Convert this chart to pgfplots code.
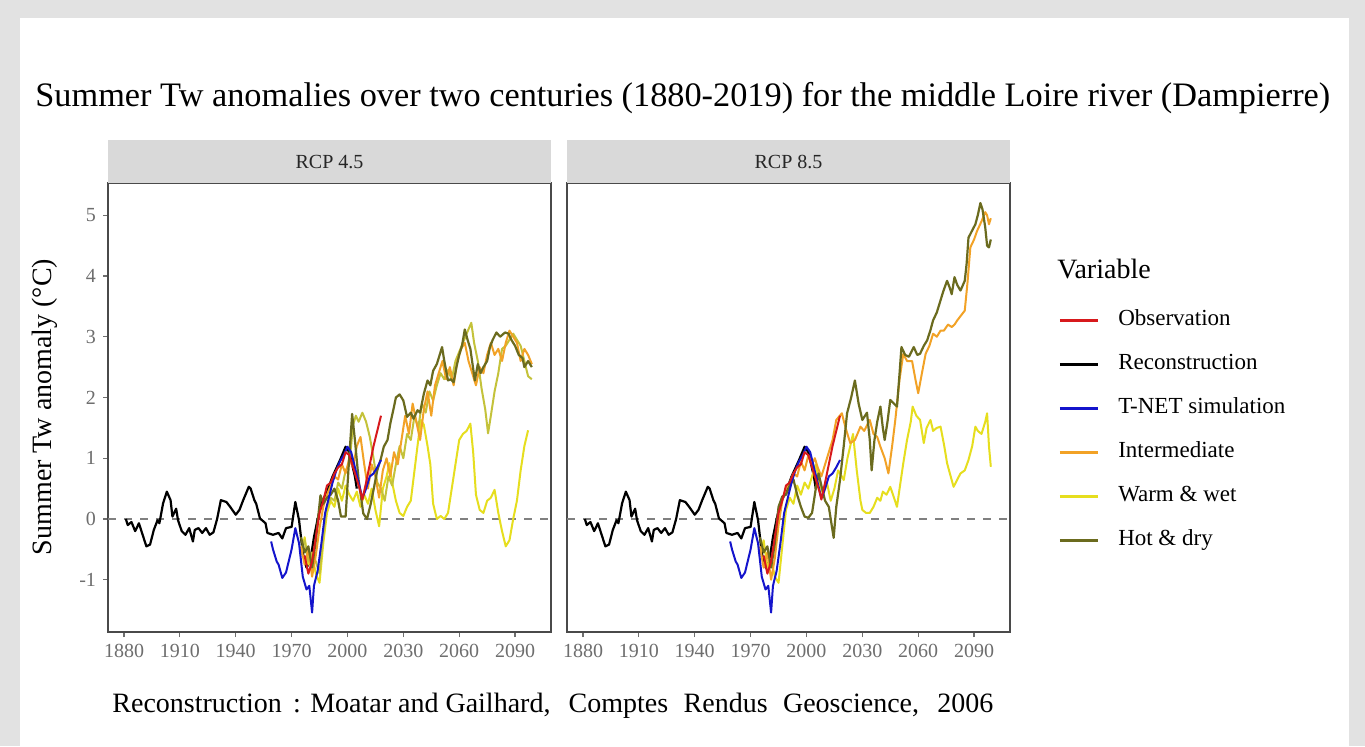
\documentclass[border=0pt]{standalone}
\usepackage{fontspec}
\setmainfont{Liberation Serif}
\usepackage{pgfplots}
\usepackage{pgfplotstable}
\pgfplotsset{compat=1.18}

\definecolor{obscol}{HTML}{D7191C}
\definecolor{tnetcol}{HTML}{1414CC}
\definecolor{intercol}{HTML}{F2A226}
\definecolor{warmcol}{HTML}{E6DE1E}
\definecolor{hotcol}{HTML}{6B6B1E}
\definecolor{ygcol}{HTML}{C4C23A}
\definecolor{framegray}{HTML}{E2E2E2}
\definecolor{stripgray}{HTML}{D9D9D9}
\definecolor{labgray}{HTML}{6E6E6E}
\definecolor{axisdark}{HTML}{4A4A4A}

% shared series (same in both panels)
\pgfplotstableread{
year val
1881 0.0
1882 -0.1
1884 -0.05
1886 -0.2
1888 -0.07
1890 -0.26
1892 -0.45
1894 -0.42
1896 -0.18
1898 -0.02
1899 -0.07
1901 0.26
1903 0.45
1905 0.31
1906 0.04
1908 0.17
1909 -0.02
1911 -0.2
1913 -0.26
1915 -0.15
1917 -0.37
1918 -0.18
1920 -0.15
1922 -0.23
1924 -0.15
1926 -0.26
1928 -0.22
1930 0.0
1932 0.31
1935 0.28
1937 0.2
1940 0.07
1942 0.15
1944 0.31
1947 0.53
1948 0.5
1950 0.31
1951 0.25
1953 0.01
1956 -0.07
1957 -0.23
1960 -0.26
1963 -0.23
1965 -0.32
1967 -0.15
1970 -0.13
1972 0.28
1974 -0.02
1976 -0.56
1978 -0.8
1980 -0.7
1982 -0.3
1984 0.0
1986 0.26
1989 0.45
1992 0.7
1996 0.97
1999 1.19
2001 1.1
2004 0.7
2005 0.5
}\rec

\pgfplotstableread{
year val
1959 -0.37
1960 -0.5
1962 -0.7
1963 -0.75
1965 -0.97
1967 -0.88
1970 -0.5
1972 -0.15
1974 -0.4
1976 -0.95
1978 -1.16
1979.5 -1.1
1981 -1.54
1982 -1.1
1984 -0.85
1986 -0.4
1988 0.1
1990 0.35
1992 0.6
1994 0.8
1996 0.95
1998 1.05
2000 1.19
2002 1.1
2004 0.85
2006 0.6
2008 0.34
2010 0.5
2012 0.7
2014 0.75
2016 0.85
2018 0.97
}\tnet

\pgfplotstableread{
year val
1977 -0.6
1979 -0.9
1981 -0.7
1983 -0.3
1985 0.1
1987 0.3
1989 0.55
1991 0.6
1993 0.75
1995 0.85
1997 0.9
1999 1.1
2001 1.05
2003 0.85
2005 0.65
2007 0.45
2008 0.32
2010 0.6
2012 0.9
2014 1.2
2016 1.45
2018 1.7
}\obs

% RCP 4.5
\pgfplotstableread{
year val
1975 -0.45
1977 -0.75
1979 -0.5
1981 -0.95
1983 -0.6
1985 -0.15
1987 0.2
1989 0.4
1991 0.55
1993 0.7
1995 0.65
1997 0.9
1999 0.75
2001 1.0
2003 0.85
2005 1.2
2007 1.35
2009 0.9
2011 0.5
2013 0.9
2015 0.7
2017 0.35
2019 0.8
2021 1.0
2023 0.7
2025 1.1
2027 0.9
2029 1.3
2031 1.7
2033 1.4
2035 1.9
2037 1.6
2039 1.3
2041 1.8
2043 2.1
2045 1.7
2047 2.2
2049 2.4
2051 2.6
2053 2.3
2055 2.5
2057 2.2
2059 2.6
2061 2.8
2063 2.9
2065 2.6
2067 2.4
2069 2.2
2071 2.5
2073 2.4
2075 2.7
2077 2.9
2079 2.7
2081 2.8
2083 2.6
2085 2.9
2087 3.1
2089 3.0
2091 2.9
2093 2.6
2095 2.8
2097 2.7
2099 2.55
}\interA

\pgfplotstableread{
year val
1975 -0.3
1977 -0.55
1979 -0.45
1981 -0.8
1983 -0.35
1985.5 0.39
1987 0.25
1989 0.35
1991 0.4
1993 0.5
1995 0.3
1996.5 0.04
1999 0.04
2000.5 0.8
2002.5 1.73
2004 1.3
2006 0.64
2008.5 0.09
2010.5 0.0
2012.5 0.25
2014 0.48
2016 0.8
2018 1.0
2019.5 1.19
2021.5 1.3
2023 1.57
2025 1.85
2026 2.0
2028 2.05
2030 1.95
2032 1.68
2034 1.75
2035.5 1.65
2037.6 1.79
2039 1.75
2041 2.06
2043 2.28
2044.5 2.2
2046 2.44
2048 2.55
2050.8 2.83
2052 2.6
2054 2.28
2055.5 2.3
2057 2.25
2058.5 2.5
2060 2.7
2061.5 2.85
2063 3.12
2064.5 2.95
2066 2.8
2068.4 2.28
2070 2.55
2071.5 2.4
2073 2.5
2075 2.6
2076.5 2.83
2078 2.95
2080 3.07
2082 3.0
2084.6 3.07
2086.5 3.05
2088 2.95
2090 2.85
2092 2.7
2094 2.65
2095 2.5
2097 2.6
2099 2.5
}\hotA

\pgfplotstableread{
year val
1975 -0.5
1977 -0.35
1979 -0.7
1981 -0.55
1983 -0.7
1985 -0.9
1987 -0.3
1989 0.2
1991 0.35
1993 0.3
1995 0.6
1997 0.5
1999 0.8
2001 0.9
2003 1.55
2004.5 1.7
2006 1.6
2008 1.75
2010 1.6
2012 1.35
2014 1.0
2016 0.6
2018 0.5
2020 0.3
2022 0.7
2024 0.55
2026 0.9
2028 1.2
2030 1.0
2032 1.4
2034 1.3
2036 1.7
2038 1.5
2040 1.9
2042 1.75
2044 2.1
2046 1.95
2048 2.2
2050 2.4
2052 2.3
2054 2.45
2056 2.3
2058 2.6
2060 2.75
2062 2.9
2064 3.05
2066.5 3.23
2068 2.9
2070 2.6
2072 2.15
2074 1.8
2075.5 1.41
2077 1.7
2079 2.1
2081 2.4
2083 2.8
2085 2.85
2087 2.95
2089 3.05
2091 2.95
2093 2.85
2095 2.6
2097 2.35
2099 2.3
}\ygA

\pgfplotstableread{
year val
1975 -0.6
1977 -0.3
1979 -0.75
1981 -0.6
1983 -0.9
1985 -1.05
1987 -0.4
1989 0.1
1991 0.3
1993 0.2
1995 0.5
1997 0.3
1999 0.55
2001 0.4
2003 0.3
2005 0.45
2007 0.2
2009 0.4
2011 0.25
2013 0.5
2015 0.15
2017 -0.12
2019 0.5
2021 0.7
2022.5 0.92
2024 0.6
2026 0.3
2028 0.1
2030 0.05
2032 0.2
2034 0.3
2036 0.8
2038 1.3
2039.5 1.63
2041 1.55
2043 1.2
2044.5 0.9
2046 0.25
2048 0.0
2050 0.05
2052 0.0
2054 0.1
2056 0.5
2058 0.9
2060 1.3
2062 1.4
2064 1.45
2066 1.57
2067.5 1.1
2069 0.4
2071 0.15
2073 0.1
2075 0.3
2077 0.35
2079 0.48
2081 0.1
2083 -0.2
2085 -0.45
2087 -0.35
2089 0.0
2091 0.3
2093 0.8
2095 1.2
2097 1.46
}\warmA

% RCP 8.5
\pgfplotstableread{
year val
1975 -0.45
1977 -0.8
1979 -0.55
1981 -1.0
1983 -0.65
1985 -0.1
1987 0.3
1989 0.5
1991 0.6
1993 0.75
1995 0.7
1997 0.95
1999 0.8
2001 1.05
2003 0.9
2004.5 1.0
2006 0.85
2008 0.7
2010 0.9
2012 1.1
2014 1.3
2016 1.63
2019 1.74
2021 1.5
2023.5 1.25
2026 1.3
2029 1.52
2031 1.45
2034 1.63
2036 1.4
2038 1.35
2039.7 1.19
2042 1.0
2044 0.75
2046 1.2
2047.7 1.63
2050 2.3
2052 2.72
2054 2.6
2056.7 2.6
2058.5 2.3
2060 2.07
2062 2.4
2064 2.72
2066 2.85
2068 3.05
2070 3.0
2072 3.1
2073.8 3.1
2076 3.2
2078 3.16
2079.5 3.2
2081 3.27
2083 3.35
2085 3.43
2086.5 3.9
2088 4.47
2090 4.6
2091.6 4.74
2094 4.9
2096 5.05
2097 5.0
2098 4.85
2099 4.95
}\interB

\pgfplotstableread{
year val
1975 -0.3
1977 -0.55
1979 -0.45
1981 -0.8
1983 -0.4
1985 0.2
1987 0.37
1989 0.4
1991 0.55
1993 0.65
1995 0.4
1997 0.2
1999 0.04
2001 0.02
2003 0.1
2005 0.5
2006.5 0.75
2008 0.55
2010 0.3
2012 0.2
2014.6 -0.31
2016 0.2
2018 0.64
2020 1.2
2021.8 1.74
2024 2.0
2026 2.28
2028 1.9
2030 1.63
2032.5 1.75
2034 1.3
2035 0.8
2036.5 1.3
2038 1.6
2039.7 1.85
2041 1.5
2042 1.3
2043.5 1.6
2045 1.96
2047 1.9
2048.6 1.85
2050 2.4
2051 2.83
2053 2.7
2055 2.67
2057.6 2.83
2059.5 2.7
2061 2.72
2063 2.85
2064.8 2.94
2066.5 3.1
2068 3.27
2070 3.4
2072 3.6
2073.5 3.75
2075.5 3.92
2077 3.8
2078 3.7
2079.5 3.98
2081 3.85
2082.7 3.76
2084 3.85
2085 3.92
2086 4.2
2087 4.63
2089 4.75
2090.7 4.85
2092 5.0
2093.4 5.2
2094.5 5.1
2096 4.8
2097 4.5
2098 4.47
2099 4.6
}\hotB

\pgfplotstableread{
year val
1975 -0.6
1977 -0.35
1979 -0.8
1981 -0.65
1983 -0.95
1985 -1.05
1987 -0.45
1989 0.15
1991 0.35
1993 0.25
1995 0.55
1997 0.4
1999 0.6
2001 0.5
2003 0.7
2005 0.9
2007 0.6
2009 0.4
2011 0.6
2013 0.3
2015 0.5
2017 0.8
2019 0.7
2020 0.64
2022 1.0
2025 1.4
2027 0.8
2029 0.3
2030 0.15
2032 0.1
2034 0.1
2036 0.2
2038 0.35
2039.7 0.3
2041 0.45
2043 0.4
2045 0.53
2047 0.35
2048.6 0.2
2050 0.5
2052 0.92
2054 1.3
2056 1.6
2057 1.85
2059 1.7
2061 1.63
2063 1.25
2064.5 1.5
2066.6 1.63
2068 1.45
2070 1.5
2072 1.52
2074 1.2
2075.5 0.92
2077 0.75
2079 0.53
2081 0.65
2082.7 0.75
2085 0.8
2087 0.97
2089 1.2
2090.7 1.52
2092 1.45
2094 1.4
2096 1.6
2097 1.74
2098 1.2
2099 0.86
}\warmB

\pgfplotsset{
  panel/.style={
    scale only axis, width=221.5pt, height=224.5pt,
    xmin=1871.4, xmax=2109.3, ymin=-1.86, ymax=5.53,
    xtick={1880,1910,...,2090}, ytick={-1,0,...,5},
    xtick pos=bottom, ytick pos=left,
    tick align=outside, major tick length=2.5pt,
    tick style={color=labgray, line width=0.6pt},
    axis line style={color=axisdark, line width=0.8pt},
    ticklabel style={font=\fontsize{10}{12}\selectfont, text=labgray},
    /pgf/number format/assume math mode=true,
    /pgf/number format/1000 sep={},
    every axis plot/.append style={no markers, line width=1pt, line join=round},
  },
  zero/.style={forget plot, gray, line width=0.7pt, dash pattern=on 4pt off 4pt},
}

\begin{document}
\begin{tikzpicture}
% px coordinates: 1 px = 0.5pt, y downwards
\begin{scope}[x=0.5pt, y=-0.5pt, yshift=373pt]
  \fill[framegray] (0,0) rectangle (1365,746);
  \fill[white] (20,18) rectangle (1349,746);
\end{scope}

\begin{axis}[panel, at={(54pt,57pt)}, anchor=south west]
  \addplot[zero] coordinates {(1871.4,0) (2109.3,0)};
  \addplot[black, line width=1.1pt] table[x=year, y=val] {\rec};
  \addplot[warmcol] table[x=year, y=val] {\warmA};
  \addplot[ygcol] table[x=year, y=val] {\ygA};
  \addplot[intercol] table[x=year, y=val] {\interA};
  \addplot[hotcol, line width=1.1pt] table[x=year, y=val] {\hotA};
  \addplot[tnetcol] table[x=year, y=val] {\tnet};
  \addplot[obscol] table[x=year, y=val] {\obs};
\end{axis}

\begin{axis}[panel, at={(283.5pt,57pt)}, anchor=south west,
    yticklabels={}, ytick=\empty,
    legend cell align=left,
    legend image code/.code={\draw[#1, line width=1.5pt] (0pt,0pt) -- (19pt,0pt);},
    legend style={at={(axis description cs:1.108,0.719)}, anchor=north west,
      draw=none, fill=none, inner sep=0pt, row sep=11pt, column sep=9.5pt,
      font=\fontsize{11.5}{13}\selectfont,
      nodes={inner sep=0pt, text height=8pt, text depth=3pt}},
  ]
  \addlegendimage{obscol}\addlegendentry{Observation}
  \addlegendimage{black}\addlegendentry{Reconstruction}
  \addlegendimage{tnetcol}\addlegendentry{T-NET simulation}
  \addlegendimage{intercol}\addlegendentry{Intermediate}
  \addlegendimage{warmcol}\addlegendentry{Warm \& wet}
  \addlegendimage{hotcol}\addlegendentry{Hot \& dry}
  \addplot[zero] coordinates {(1871.4,0) (2109.3,0)};
  \addplot[black, line width=1.1pt, forget plot] table[x=year, y=val] {\rec};
  \addplot[warmcol, forget plot] table[x=year, y=val] {\warmB};
  \addplot[intercol, forget plot] table[x=year, y=val] {\interB};
  \addplot[hotcol, line width=1.1pt, forget plot] table[x=year, y=val] {\hotB};
  \addplot[tnetcol, forget plot] table[x=year, y=val] {\tnet};
  \addplot[obscol, forget plot] table[x=year, y=val] {\obs};
\end{axis}

\begin{scope}[x=0.5pt, y=-0.5pt, yshift=373pt]
  \fill[stripgray] (108,140) rectangle (551,183);
  \fill[stripgray] (567,140) rectangle (1010,183);
  \node[font=\fontsize{10}{12}\selectfont, text=black!85] at (329.5,162) {RCP 4.5};
  \node[font=\fontsize{10}{12}\selectfont, text=black!85] at (788.5,162) {RCP 8.5};
  \node[anchor=base west, inner sep=0pt, font=\fontsize{17.15}{20}\selectfont] at (35,107)
    {Summer Tw anomalies over two centuries (1880-2019) for the middle Loire river (Dampierre)};
  \node[rotate=90, inner sep=0pt, font=\fontsize{14}{16}\selectfont] at (45,407)
    {Summer Tw anomaly (°C)};
  \node[anchor=base west, inner sep=0pt, font=\fontsize{14}{16}\selectfont] at (1057,278) {Variable};
  \node[anchor=base west, inner sep=0pt, font=\fontsize{14}{16}\selectfont] at (112,712)
    {Reconstruction\hspace{0.4em}: Moatar and Gailhard,\hspace{0.65em}Comptes\hspace{0.55em}Rendus\hspace{0.55em}Geoscience,\hspace{0.65em}2006};
\end{scope}
\end{tikzpicture}
\end{document}
